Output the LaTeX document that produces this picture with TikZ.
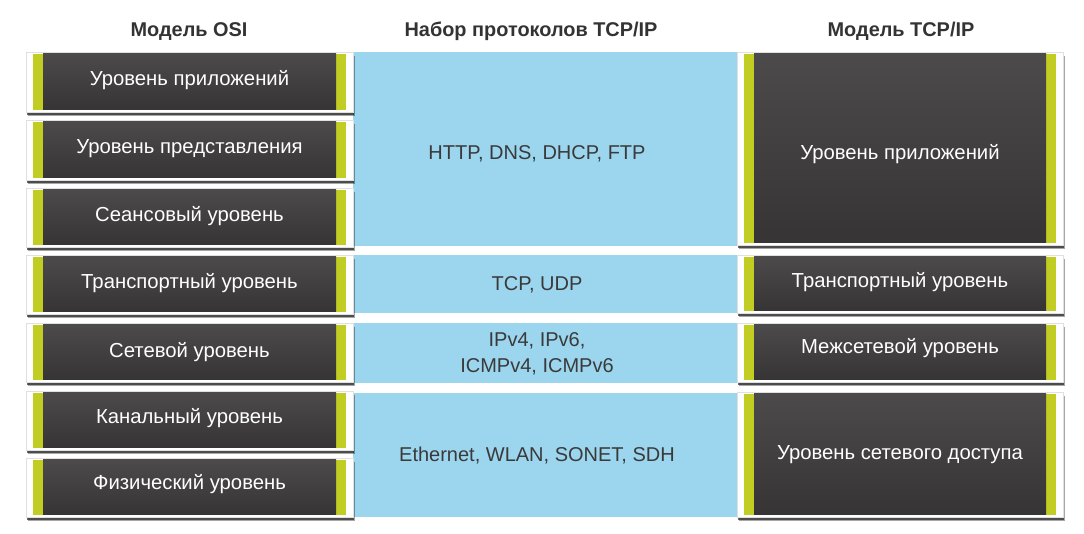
\documentclass[tikz,border=0pt]{standalone}
\usepackage{fontspec}
\setmainfont{Liberation Sans}
\usetikzlibrary{shadows}
\definecolor{lime}{HTML}{C2CD23}
\definecolor{sky}{HTML}{9CD5EE}
\definecolor{darktop}{HTML}{4C4A4B}
\definecolor{darkbot}{HTML}{373435}
\definecolor{hdr}{HTML}{333333}
\definecolor{midtext}{HTML}{3A3A3A}
\tikzset{
  frame/.style={fill=white, draw=black!12, line width=0.5pt,
    drop shadow={shadow xshift=1.5pt, shadow yshift=-4pt, opacity=0.35, fill=black},
    drop shadow={shadow xshift=1pt, shadow yshift=-2.5pt, opacity=0.7, fill=black!85}},
  strip/.style={fill=lime},
  darkpanel/.style={top color=darktop, bottom color=darkbot},
  layertext/.style={text=white, font=\fontsize{20.3}{24}\selectfont, anchor=base, inner sep=0pt},
  prototext/.style={text=midtext, font=\fontsize{20}{26}\selectfont, anchor=base, inner sep=0pt, align=center},
  headtext/.style={text=hdr, font=\bfseries\fontsize{19.9}{23}\selectfont, anchor=base, inner sep=0pt},
  band/.style={fill=sky}
}
\newcommand\layerbox[7]{%
  \path[frame] (#2,#3) rectangle (#4,#5);
  \path[strip] ({#2+7},{#3+1.5}) rectangle ({#4-7},{#5-2.5});
  \path[darkpanel] ({#2+17},{#3+1.5}) rectangle ({#4-17},{#5-2.5});
  \node[layertext] (#1) at ({(#2+#4)/2},#6) {#7};
}
\begin{document}
\begin{tikzpicture}[x=1pt,y=-1pt]
\useasboundingbox (0,0) rectangle (1084,533);
% headers
\node[headtext] (hosi) at (189,36) {Модель OSI};
\node[headtext] (hsuite) at (531,36) {Набор протоколов TCP/IP};
\node[headtext] (htcp) at (901,36) {Модель TCP/IP};
% blue bands
\path[band] (353,52) rectangle (737,246);
\path[band] (353,255) rectangle (737,313);
\path[band] (353,323) rectangle (737,383);
\path[band] (353,393) rectangle (737,517);
\node[prototext] (papp) at (537,159) {HTTP, DNS, DHCP, FTP};
\node[prototext] (ptr) at (537,290) {TCP, UDP};
\node[prototext] (pnet) at (537,372) {IPv4, IPv6,\\ICMPv4, ICMPv6};
\node[prototext] (pacc) at (537,461) {Ethernet, WLAN, SONET, SDH};
% OSI
\layerbox{o7}{26}{52}{353}{112}{85}{Уровень приложений}
\layerbox{o6}{26}{120}{353}{180}{153}{Уровень представления}
\layerbox{o5}{26}{188}{353}{247}{221}{Сеансовый уровень}
\layerbox{o4}{26}{255}{353}{314}{288}{Транспортный уровень}
\layerbox{o3}{26}{323}{353}{382}{357}{Сетевой уровень}
\layerbox{o2}{26}{391}{353}{450}{423}{Канальный уровень}
\layerbox{o1}{26}{458}{353}{517}{489}{Физический уровень}
% TCP/IP
\layerbox{t4}{737}{52}{1063}{245}{159}{Уровень приложений}
\layerbox{t3}{737}{255}{1063}{313}{287}{Транспортный уровень}
\layerbox{t2}{737}{323}{1063}{382}{353}{Межсетевой уровень}
\layerbox{t1}{737}{392}{1063}{517}{459}{Уровень сетевого доступа}
\end{tikzpicture}
\end{document}
